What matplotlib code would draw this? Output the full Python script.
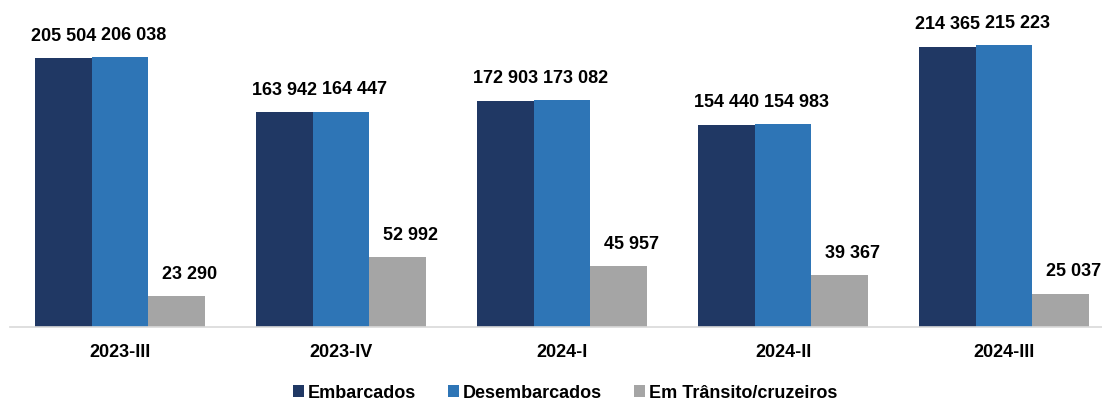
import numpy as np
import matplotlib
matplotlib.use("Agg")
import matplotlib.pyplot as plt
from matplotlib.patches import Patch

plt.rcParams["font.family"] = ["Liberation Sans", "DejaVu Sans"]

# Datos
trimestres = ["2023-III", "2023-IV", "2024-I", "2024-II", "2024-III"]
embarcados = [205504, 163942, 172903, 154440, 214365]
desembarcados = [206038, 164447, 173082, 154983, 215223]
transito = [23290, 52992, 45957, 39367, 25037]

series = [
    ("Embarcados", embarcados, "#203864"),
    ("Desembarcados", desembarcados, "#2E75B6"),
    ("Em Trânsito/cruzeiros", transito, "#A5A5A5"),
]

fig = plt.figure(figsize=(11.02, 4.0), dpi=100)
ax = fig.add_axes([9.5 / 1102, 0.18375, 1105 / 1102, 0.81625])

x = np.arange(len(trimestres))
ancho = 0.2557
desplaz_label = [0, 9.5, 9.5]

for i, (nombre, valores, color) in enumerate(series):
    pos = x + (i - 1) * ancho
    ax.bar(pos, valores, width=ancho, color=color, label=nombre)
    for xp, v in zip(pos, valores):
        ax.annotate(
            f"{v:,}".replace(",", " "),
            (xp, v),
            xytext=(desplaz_label[i], 12.5),
            textcoords="offset points",
            ha="center",
            va="baseline",
            fontsize=13,
            fontweight="bold",
            color="#000000",
        )

ax.set_xlim(-0.5, 4.5)
ax.set_ylim(0, 250000)
ax.set_xticks(x)
ax.set_xticklabels(trimestres, fontsize=13, fontweight="bold")
ax.tick_params(axis="x", length=0, pad=12.5)
ax.set_yticks([])

for lado in ["top", "right", "left"]:
    ax.spines[lado].set_visible(False)
ax.spines["bottom"].set_color("#D9D9D9")
ax.spines["bottom"].set_linewidth(1.2)

handles = [Patch(facecolor=c, label=n) for n, _, c in series]
fig.legend(
    handles=handles,
    loc="center",
    bbox_to_anchor=(565 / 1102, 7 / 400),
    ncol=3,
    frameon=False,
    prop={"size": 13, "weight": "bold"},
    handlelength=0.6,
    handleheight=0.6,
    handletextpad=0.2,
    columnspacing=1.8,
)

fig.savefig("out.png", dpi=100)
